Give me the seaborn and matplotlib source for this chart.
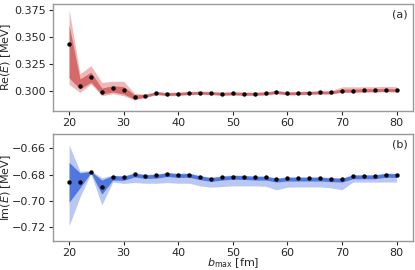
import numpy as np
import pandas as pd
import seaborn as sns
import matplotlib.pyplot as plt

# b_max grid [fm]
b_max = list(range(20, 81, 2))

# Re(E) central values and bands [MeV]
re_mid = [0.3438, 0.3047, 0.3131, 0.2991, 0.3025, 0.3006, 0.2942, 0.2953, 0.2978, 0.2969,
          0.2972, 0.2978, 0.2981, 0.2978, 0.2972, 0.2975, 0.2972, 0.2972, 0.2975, 0.2988,
          0.2975, 0.2978, 0.2981, 0.2984, 0.2984, 0.3000, 0.3000, 0.3003, 0.3003, 0.3006, 0.3003]
re_dark_hi = [0.3610, 0.3110, 0.3172, 0.3025, 0.3047, 0.3038, 0.2963, 0.2965, 0.2990, 0.2981,
              0.2984, 0.2990, 0.2993, 0.2990, 0.2984, 0.2987, 0.2984, 0.2984, 0.2987, 0.3000,
              0.2987, 0.2990, 0.2993, 0.2996, 0.2996, 0.3015, 0.3015, 0.3018, 0.3018, 0.3021, 0.3018]
re_dark_lo = [0.3120, 0.3016, 0.3078, 0.2969, 0.2988, 0.2969, 0.2922, 0.2941, 0.2966, 0.2957,
              0.2960, 0.2966, 0.2969, 0.2966, 0.2960, 0.2963, 0.2960, 0.2960, 0.2963, 0.2976,
              0.2963, 0.2966, 0.2969, 0.2972, 0.2972, 0.2988, 0.2988, 0.2991, 0.2991, 0.2994, 0.2991]
re_light_hi = [0.3756, 0.3157, 0.3234, 0.3078, 0.3088, 0.3088, 0.2975, 0.2969, 0.2994, 0.2985,
               0.2988, 0.2994, 0.2997, 0.2994, 0.2988, 0.2991, 0.2988, 0.2988, 0.2991, 0.3004,
               0.2991, 0.2994, 0.2997, 0.3000, 0.3000, 0.3036, 0.3036, 0.3037, 0.3037, 0.3040, 0.3038]
re_light_lo = [0.3060, 0.2984, 0.3063, 0.2953, 0.2972, 0.2953, 0.2913, 0.2937, 0.2962, 0.2953,
               0.2956, 0.2962, 0.2965, 0.2962, 0.2956, 0.2959, 0.2956, 0.2956, 0.2959, 0.2972,
               0.2959, 0.2962, 0.2965, 0.2968, 0.2968, 0.2985, 0.2985, 0.2988, 0.2988, 0.2991, 0.2988]

# Im(E) central values and bands [MeV]
im_mid = [-0.6853, -0.6858, -0.6779, -0.6893, -0.6816, -0.6821, -0.6797, -0.6809, -0.6806, -0.6794,
          -0.6801, -0.6799, -0.6818, -0.6831, -0.6821, -0.6814, -0.6816, -0.6821, -0.6821, -0.6836,
          -0.6828, -0.6828, -0.6828, -0.6828, -0.6833, -0.6836, -0.6811, -0.6811, -0.6811, -0.6799, -0.6801]
im_dark_hi = [-0.6707, -0.6786, -0.6775, -0.6841, -0.6806, -0.6812, -0.6789, -0.6801, -0.6798, -0.6786,
              -0.6793, -0.6791, -0.6810, -0.6823, -0.6813, -0.6806, -0.6808, -0.6813, -0.6813, -0.6828,
              -0.6820, -0.6820, -0.6820, -0.6820, -0.6825, -0.6828, -0.6803, -0.6803, -0.6803, -0.6791, -0.6793]
im_dark_lo = [-0.7009, -0.6900, -0.6785, -0.6947, -0.6841, -0.6843, -0.6817, -0.6829, -0.6826, -0.6814,
              -0.6821, -0.6819, -0.6838, -0.6851, -0.6841, -0.6834, -0.6836, -0.6841, -0.6841, -0.6856,
              -0.6848, -0.6848, -0.6848, -0.6848, -0.6853, -0.6856, -0.6831, -0.6831, -0.6831, -0.6819, -0.6821]
im_light_hi = [-0.6575, -0.6774, -0.6770, -0.6823, -0.6804, -0.6809, -0.6785, -0.6797, -0.6794, -0.6782,
               -0.6789, -0.6787, -0.6806, -0.6819, -0.6809, -0.6802, -0.6804, -0.6809, -0.6809, -0.6824,
               -0.6816, -0.6816, -0.6816, -0.6816, -0.6821, -0.6824, -0.6799, -0.6799, -0.6799, -0.6787, -0.6789]
im_light_lo = [-0.7187, -0.6970, -0.6790, -0.7029, -0.6856, -0.6866, -0.6860, -0.6865, -0.6865, -0.6860,
               -0.6865, -0.6865, -0.6885, -0.6895, -0.6890, -0.6885, -0.6885, -0.6885, -0.6888, -0.6915,
               -0.6895, -0.6893, -0.6893, -0.6893, -0.6900, -0.6915, -0.6856, -0.6856, -0.6856, -0.6856, -0.6856]

df = pd.DataFrame({'b': b_max, 're': re_mid, 'im': im_mid})

sns.set_style("ticks")
plt.rcParams['font.family'] = ['DejaVu Sans']
plt.rcParams['font.size'] = 8

fig, (ax1, ax2) = plt.subplots(2, 1, figsize=(4.15, 2.70), dpi=100)
fig.subplots_adjust(left=0.127, right=0.995, top=0.985, bottom=0.107, hspace=0.22)

# top panel: real part
ax1.fill_between(b_max, re_light_lo, re_light_hi, color='#efb8b8', lw=0)
ax1.fill_between(b_max, re_dark_lo, re_dark_hi, color='#d46a6a', lw=0)
sns.scatterplot(data=df, x='b', y='re', ax=ax1, color='black', s=10, linewidth=0, zorder=3)
ax1.set_ylim(0.2813, 0.3806)
ax1.set_yticks([0.300, 0.325, 0.350, 0.375])
ax1.set_ylabel('Re($E$) [MeV]', fontsize=8)
ax1.set_xlabel('')
ax1.text(0.985, 0.95, '(a)', transform=ax1.transAxes, ha='right', va='top', fontsize=8)

# bottom panel: imaginary part
ax2.fill_between(b_max, im_light_lo, im_light_hi, color='#b9c8f3', lw=0)
ax2.fill_between(b_max, im_dark_lo, im_dark_hi, color='#5076e0', lw=0)
sns.scatterplot(data=df, x='b', y='im', ax=ax2, color='black', s=10, linewidth=0, zorder=3)
ax2.set_ylim(-0.7304, -0.6494)
ax2.set_yticks([-0.72, -0.70, -0.68, -0.66])
ax2.set_ylabel('Im($E$) [MeV]', fontsize=8)
ax2.set_xlabel('$b_{\\mathrm{max}}$ [fm]', fontsize=8)
ax2.xaxis.set_label_coords(0.5, -0.14)
ax2.text(0.985, 0.95, '(b)', transform=ax2.transAxes, ha='right', va='top', fontsize=8)

for ax in (ax1, ax2):
    ax.yaxis.set_label_coords(-0.11, 0.5)
    ax.set_xlim(17, 83)
    ax.set_xticks([20, 30, 40, 50, 60, 70, 80])
    ax.tick_params(labelsize=8, length=3, width=0.8, pad=2)
    for sp in ax.spines.values():
        sp.set_color('#999999')
        sp.set_linewidth(1.0)

fig.savefig('out.png', dpi=100)
